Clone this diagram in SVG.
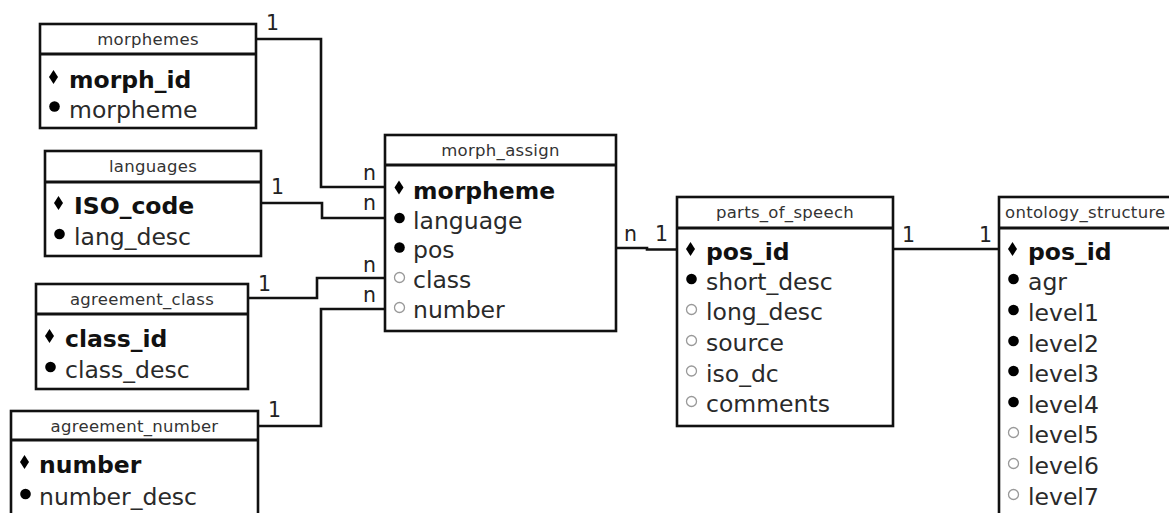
<svg xmlns="http://www.w3.org/2000/svg" width="1169" height="513" viewBox="0 0 1169 513">
<style>
.box{fill:#fff;stroke:#111;stroke-width:2.6}
.sep{stroke:#111;stroke-width:3}
.title{font-family:"DejaVu Sans",sans-serif;font-size:16.5px;fill:#333;text-anchor:middle;letter-spacing:0.3px}
.pk{font-family:"DejaVu Sans",sans-serif;font-size:23.5px;font-weight:bold;fill:#111}
.fld{font-family:"DejaVu Sans",sans-serif;font-size:23.5px;fill:#2a2a2a}
.lbl{font-family:"DejaVu Sans",sans-serif;font-size:20.5px;fill:#222}
.con{fill:none;stroke:#111;stroke-width:2.6}
.dot{fill:#000}
.opt{fill:#fff;stroke:#999;stroke-width:1.3}
</style>
<defs>
<path id="dia" d="M0,-7 L4.5,0 L0,7 L-4.5,0 Z" fill="#000"/>
</defs>
<rect width="1169" height="513" fill="#fff"/>

<g id="connectors">
<path class="con" d="M256,39 H321 V187 H385"/>
<path class="con" d="M261,203 H322 V218 H385"/>
<path class="con" d="M248,298 H317 V278 H385"/>
<path class="con" d="M258,426 H321 V309 H385"/>
<path class="con" d="M616,248 H647 V249.5 H677"/>
<path class="con" d="M893,249 H999"/>
<text class="lbl" x="266" y="30">1</text>
<text class="lbl" x="271" y="194">1</text>
<text class="lbl" x="258" y="291">1</text>
<text class="lbl" x="268" y="417">1</text>
<text class="lbl" x="363" y="180">n</text>
<text class="lbl" x="363" y="210">n</text>
<text class="lbl" x="363" y="272">n</text>
<text class="lbl" x="363" y="302">n</text>
<text class="lbl" x="624" y="241">n</text>
<text class="lbl" x="655" y="241">1</text>
<text class="lbl" x="902" y="242">1</text>
<text class="lbl" x="979" y="242">1</text>
</g>

<g id="morphemes">
<rect class="box" x="40" y="24" width="216" height="104"/>
<line class="sep" x1="40" y1="54" x2="256" y2="54"/>
<text class="title" x="148" y="45">morphemes</text>
<use href="#dia" x="53.5" y="77"/>
<text class="pk" x="69" y="88">morph_id</text>
<circle class="dot" cx="54.5" cy="106.5" r="5.3"/>
<text class="fld" x="69" y="118">morpheme</text>
</g>

<g id="languages">
<rect class="box" x="45" y="151" width="216" height="105"/>
<line class="sep" x1="45" y1="182" x2="261" y2="182"/>
<text class="title" x="153" y="172">languages</text>
<use href="#dia" x="58.5" y="203"/>
<text class="pk" x="74" y="214">ISO_code</text>
<circle class="dot" cx="59.5" cy="234" r="5.3"/>
<text class="fld" x="74" y="245">lang_desc</text>
</g>

<g id="agreement_class">
<rect class="box" x="36" y="284" width="212" height="105"/>
<line class="sep" x1="36" y1="314" x2="248" y2="314"/>
<text class="title" x="142" y="305">agreement_class</text>
<use href="#dia" x="49.5" y="336"/>
<text class="pk" x="65" y="347">class_id</text>
<circle class="dot" cx="50.5" cy="367" r="5.3"/>
<text class="fld" x="65" y="378">class_desc</text>
</g>

<g id="agreement_number">
<rect class="box" x="11" y="411" width="247" height="120"/>
<line class="sep" x1="11" y1="440" x2="258" y2="440"/>
<text class="title" x="134.5" y="432">agreement_number</text>
<use href="#dia" x="24.5" y="462"/>
<text class="pk" x="39" y="473">number</text>
<circle class="dot" cx="25.5" cy="494" r="5.3"/>
<text class="fld" x="39" y="505">number_desc</text>
</g>

<g id="morph_assign">
<rect class="box" x="385" y="135" width="231" height="196"/>
<line class="sep" x1="385" y1="165" x2="616" y2="165"/>
<text class="title" x="500.5" y="156">morph_assign</text>
<use href="#dia" x="399" y="187.5"/>
<text class="pk" x="413" y="199">morpheme</text>
<circle class="dot" cx="399.5" cy="218" r="5.3"/>
<text class="fld" x="413" y="229">language</text>
<circle class="dot" cx="399.5" cy="247.5" r="5.3"/>
<text class="fld" x="413" y="258">pos</text>
<circle class="opt" cx="399.5" cy="277.5" r="5"/>
<text class="fld" x="413" y="288">class</text>
<circle class="opt" cx="399.5" cy="307.5" r="5"/>
<text class="fld" x="413" y="318">number</text>
</g>

<g id="parts_of_speech">
<rect class="box" x="677" y="197" width="216" height="229"/>
<line class="sep" x1="677" y1="228" x2="893" y2="228"/>
<text class="title" x="785" y="218">parts_of_speech</text>
<use href="#dia" x="690.5" y="249"/>
<text class="pk" x="706" y="260">pos_id</text>
<circle class="dot" cx="691.5" cy="279" r="5.3"/>
<text class="fld" x="706" y="290">short_desc</text>
<circle class="opt" cx="691.5" cy="309.5" r="5"/>
<text class="fld" x="706" y="320">long_desc</text>
<circle class="opt" cx="691.5" cy="340.5" r="5"/>
<text class="fld" x="706" y="351">source</text>
<circle class="opt" cx="691.5" cy="371" r="5"/>
<text class="fld" x="706" y="382">iso_dc</text>
<circle class="opt" cx="691.5" cy="401.5" r="5"/>
<text class="fld" x="706" y="412">comments</text>
</g>

<g id="ontology_structure">
<rect class="box" x="999" y="197" width="190" height="340"/>
<line class="sep" x1="999" y1="228" x2="1189" y2="228"/>
<text class="title" x="1005" y="218" style="text-anchor:start">ontology_structure</text>
<use href="#dia" x="1012.5" y="249"/>
<text class="pk" x="1028" y="260">pos_id</text>
<circle class="dot" cx="1013.5" cy="279" r="5.3"/>
<text class="fld" x="1028" y="290">agr</text>
<circle class="dot" cx="1013.5" cy="310" r="5.3"/>
<text class="fld" x="1028" y="321">level1</text>
<circle class="dot" cx="1013.5" cy="341" r="5.3"/>
<text class="fld" x="1028" y="352">level2</text>
<circle class="dot" cx="1013.5" cy="371" r="5.3"/>
<text class="fld" x="1028" y="382">level3</text>
<circle class="dot" cx="1013.5" cy="402" r="5.3"/>
<text class="fld" x="1028" y="413">level4</text>
<circle class="opt" cx="1013.5" cy="432.5" r="5"/>
<text class="fld" x="1028" y="443">level5</text>
<circle class="opt" cx="1013.5" cy="463.5" r="5"/>
<text class="fld" x="1028" y="474">level6</text>
<circle class="opt" cx="1013.5" cy="494.5" r="5"/>
<text class="fld" x="1028" y="505">level7</text>
</g>
</svg>
